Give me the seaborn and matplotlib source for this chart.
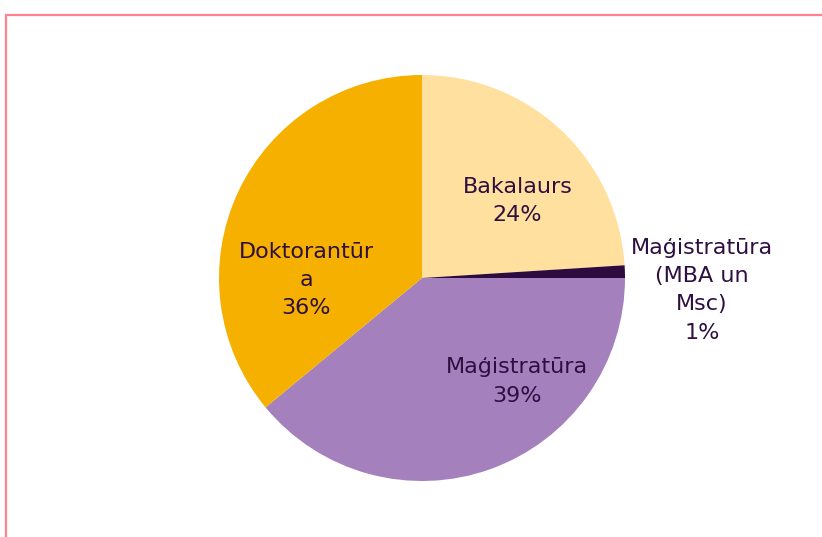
import numpy as np
import matplotlib.pyplot as plt
import matplotlib.patches as mpatches
import seaborn as sns

# Data
labels = ["Bakalaurs", "Maģistratūra\n(MBA un\nMsc)", "Maģistratūra", "Doktorantūr\na"]
shares = [24, 1, 39, 36]
colors = ["#FFE09F", "#2D0B3E", "#A480BC", "#F5B000"]

# label centres in pie-radius units (Excel style placement)
label_pos = [(0.47, 0.38), (1.38, -0.06), (0.47, -0.51), (-0.57, -0.01)]

sns.set_theme(style="white")
plt.rcParams['font.family'] = ['DejaVu Sans']

W, H = 822, 537
fig = plt.figure(figsize=(W / 100, H / 100), dpi=100)

# pie axes: centre (422, 278), radius 203 px
r = 203
cx, cy = 422, 278
ax = fig.add_axes([(cx - r) / W, (H - cy - r) / H, 2 * r / W, 2 * r / H])

wedges, _ = ax.pie(shares, colors=colors, startangle=90, counterclock=False,
                   wedgeprops=dict(linewidth=0))
ax.set_xlim(-1, 1)
ax.set_ylim(-1, 1)
ax.set_aspect("equal")
ax.axis("off")

text_color = "#2E0F40"
for lab, val, (x, y) in zip(labels, shares, label_pos):
    ax.text(x, y, f"{lab}\n{val}%", ha="center", va="center", fontsize=16,
            color=text_color, linespacing=1.52)

# pink frame of the chart area (runs off the right and bottom)
frame = mpatches.Rectangle((5.5 / W, -0.1), 1.2, 1.1 - 14.5 / H,
                           transform=fig.transFigure, fill=False,
                           edgecolor="#FF8290", linewidth=1.6, clip_on=False)
fig.patches.append(frame)

fig.savefig("out.png", dpi=100)
